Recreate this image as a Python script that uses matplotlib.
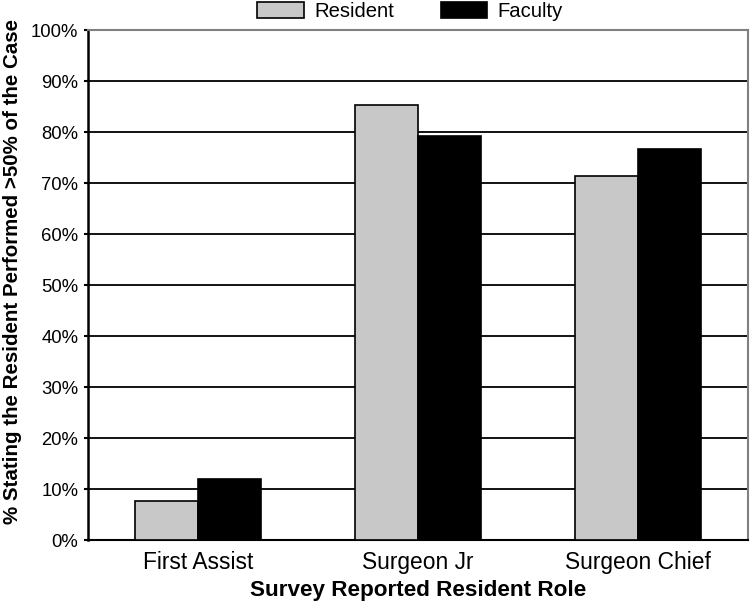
import numpy as np
import matplotlib.pyplot as plt

plt.rcParams['font.family'] = ['Liberation Sans', 'DejaVu Sans']

roles = ['First Assist', 'Surgeon Jr', 'Surgeon Chief']
resident = [7.6, 85.2, 71.4]
faculty = [11.9, 79.3, 76.6]
yticks = [0, 10, 20, 30, 40, 50, 60, 70, 80, 90, 100]

fig = plt.figure(figsize=(7.5, 6.05), dpi=100)
ax = fig.add_axes([0.1173, 0.1074, 0.88, 0.843])

x = np.arange(len(roles))
w = 0.287
ax.bar(x - w/2, resident, w, color='#c8c8c8', edgecolor='black', linewidth=1.2,
       label='Resident', zorder=3)
ax.bar(x + w/2, faculty, w, color='black', edgecolor='black', linewidth=1.2,
       label='Faculty', zorder=3)

ax.set_xlim(-0.5, 2.5)
ax.set_ylim(0, 100)
ax.set_yticks(yticks)
ax.set_yticklabels([f'{t}%' for t in yticks], fontsize=13.3)
ax.set_xticks(x)
ax.set_xticklabels(roles, fontsize=16.4)
ax.tick_params(axis='x', length=0, pad=8)
ax.tick_params(axis='y', length=3, width=1.5, pad=4)
ax.yaxis.grid(True, color='black', linewidth=1.3, zorder=0)
ax.set_axisbelow(True)

ax.spines['left'].set_linewidth(1.8)
ax.spines['bottom'].set_linewidth(1.5)
for s in ['top', 'right']:
    ax.spines[s].set_color('#808080')
    ax.spines[s].set_linewidth(1.5)

ax.set_xlabel('Survey Reported Resident Role', fontsize=16.2, fontweight='bold', labelpad=4)
ax.set_ylabel('% Stating the Resident Performed >50% of the Case', fontsize=14.8,
              fontweight='bold')
ax.yaxis.set_label_coords(-0.1, 0.526)

ax.legend(loc='lower center', bbox_to_anchor=(0.488, 1.0), ncol=2, frameon=False,
          fontsize=14.6, handlelength=2.3, handleheight=0.82, columnspacing=2.3,
          handletextpad=0.5, borderaxespad=0.35, borderpad=0.1)

fig.savefig('out.png', dpi=100)
